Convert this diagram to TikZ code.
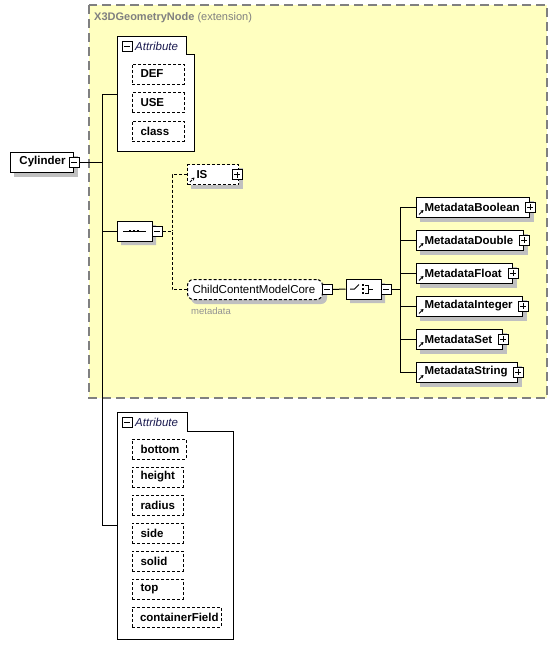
\documentclass[tikz,border=0pt]{standalone}
\usepackage{fontspec}
\setmainfont{Liberation Sans}
\usetikzlibrary{shapes.misc,arrows.meta}
\definecolor{ylw}{HTML}{FFFFC0}
\definecolor{shd}{HTML}{C0C0C0}
\definecolor{extc}{HTML}{808080}
\definecolor{navy}{HTML}{1A1A50}
\pgfdeclarelayer{back}
\pgfdeclarelayer{shadowlayer}
\pgfsetlayers{back,shadowlayer,main}
\newcommand\boxtxt[3]{\makebox[#1pt][l]{\hspace*{#2pt}#3}}
\tikzset{
  base/.style={line width=1pt, draw=black, fill=white, inner sep=0pt, minimum height=20pt,
    anchor=west, font=\fontsize{11.5}{13}\selectfont\bfseries},
  elem/.style={base},
  attr/.style={base, dash pattern=on 3pt off 2pt},
  link/.style={path picture={\draw[line width=1pt, -{Stealth[length=3pt,width=3.5pt]}]
      ([shift={(2.5pt,2.5pt)}]path picture bounding box.south west) -- ++(4.5pt,4.5pt);}},
  pmbox/.style={draw, fill=white, line width=1pt, minimum size=10pt, inner sep=0pt},
  minus/.style={pmbox, path picture={\draw[line width=1pt]
      ([xshift=2pt]path picture bounding box.west) -- ([xshift=-2pt]path picture bounding box.east);}},
  plus/.style={pmbox, path picture={\draw[line width=1pt]
      ([xshift=2pt]path picture bounding box.west) -- ([xshift=-2pt]path picture bounding box.east)
      ([yshift=2pt]path picture bounding box.south) -- ([yshift=-2pt]path picture bounding box.north);}},
  group/.style={draw=black, fill=white, line width=1pt},
  compshape/.style={chamfered rectangle, chamfered rectangle xsep=5pt, chamfered rectangle ysep=5pt,
    line width=1pt, minimum width=35pt, minimum height=20pt, inner sep=0pt},
  comp/.style={compshape, draw=black, fill=white},
  conn/.style={draw=black, line width=1pt},
  dconn/.style={draw=black, line width=1pt, dash pattern=on 3pt off 2pt},
  grptitle/.style={anchor=west, inner sep=0pt, text=navy, font=\fontsize{11.5}{13}\selectfont\itshape},
}
\begin{document}
\begin{tikzpicture}[x=1pt,y=-1pt]
\useasboundingbox (0,0) rectangle (557,656);
% extension area
\begin{pgfonlayer}{back}
\fill[ylw] (89,5) rectangle (547,398);
\draw[extc, line width=1.2pt, dash pattern=on 9pt off 5pt] (89,5) rectangle (547,398);
\end{pgfonlayer}
\node[anchor=west, inner sep=0pt, text=extc, font=\fontsize{11}{13}\selectfont] (exttitle) at (94,18)
  {\textbf{X3DGeometryNode} (extension)};

% top attribute group
\draw[group] (117,36) -- (186,36) -- (186,54) -- (194,54) -- (194,151) -- (117,151) -- cycle;
\coordinate (grpA) at (117,94);
\node[minus] (grpAm) at (127,46.5) {};
\node[grptitle] (grpAt) at (135,46.5) {Attribute};
\node[attr] (def) at (131.5,74) {\boxtxt{52}{8.5}{DEF}};
\node[attr] (use) at (131.5,102.5) {\boxtxt{52}{8.5}{USE}};
\node[attr] (class) at (131.5,131) {\boxtxt{52}{8.5}{class}};

% bottom attribute group
\draw[group] (117,412) -- (187,412) -- (187,431) -- (233,431) -- (233,639) -- (117,639) -- cycle;
\coordinate (grpB) at (117,525);
\node[minus] (grpBm) at (127,422) {};
\node[grptitle] (grpBt) at (135,422) {Attribute};
\node[attr] (bottom) at (131.5,449) {\boxtxt{54}{8.5}{bottom}};
\node[attr] (height) at (131.5,477) {\boxtxt{51}{8.5}{height}};
\node[attr] (radius) at (131.5,505) {\boxtxt{51}{8.5}{radius}};
\node[attr] (side) at (131.5,533) {\boxtxt{51}{8.5}{side}};
\node[attr] (solid) at (131.5,561) {\boxtxt{51}{8.5}{solid}};
\node[attr] (top) at (131.5,589) {\boxtxt{51}{8.5}{top}};
\node[attr] (cfield) at (131.5,617) {\boxtxt{89}{8}{containerField}};

% Cylinder
\node[elem] (cyl) at (10,162) {\boxtxt{63}{9}{Cylinder}};
\node[minus] (cylm) at (cyl.east) {};

% sequence
\node[comp, minimum width=35pt] (seq) at (134.5,231) {};
\draw[line width=1pt] (123,231) -- (146,231);
\foreach \dx in {130,134,138} \fill (\dx-1.3,229.7) rectangle (\dx+1.3,232.3);
\node[minus] (seqm) at (157,231) {};

% IS and ChildContentModelCore
\node[attr, link] (is) at (187,174.5) {\boxtxt{51}{9}{IS}};
\node[plus] (isp) at (237,174.5) {};
\node[base, dash pattern=on 3pt off 2pt, rounded corners=6pt,
  font=\fontsize{11.5}{13}\selectfont] (ccmc) at (187,289.5) {\boxtxt{135}{5}{ChildContentModelCore}};
\node[minus] (ccmcm) at (327,289.5) {};
\node[anchor=west, inner sep=0pt, text=extc!85, font=\fontsize{9.5}{11}\selectfont] (meta) at (191,311) {metadata};

% choice
\node[comp] (choice) at (363.5,289) {};
\draw[line width=1pt] (350,289) -- (354.5,289) -- (359,284.5);
\foreach \dy in {285,289,293} \fill (361.5,\dy-1.2) rectangle (363.9,\dy+1.2);
\draw[line width=1pt] (365,285) -- (368.5,285) -- (368.5,293) -- (365,293) (368.5,289) -- (373,289);
\node[minus] (choicem) at (386,289) {};

% metadata elements
\node[elem, link] (mb) at (416,207) {\boxtxt{113}{8}{MetadataBoolean}};
\node[plus] (mbp) at (mb.east) {};
\node[elem, link] (md) at (416,240) {\boxtxt{107}{8}{MetadataDouble}};
\node[plus] (mdp) at (md.east) {};
\node[elem, link] (mf) at (416,273) {\boxtxt{96}{8}{MetadataFloat}};
\node[plus] (mfp) at (mf.east) {};
\node[elem, link] (mi) at (416,306) {\boxtxt{106}{8}{MetadataInteger}};
\node[plus] (mip) at (mi.east) {};
\node[elem, link] (ms) at (416,339) {\boxtxt{86}{8}{MetadataSet}};
\node[plus] (msp) at (ms.east) {};
\node[elem, link] (mst) at (416,372) {\boxtxt{101}{8}{MetadataString}};
\node[plus] (mstp) at (mst.east) {};

% shadows
\begin{pgfonlayer}{shadowlayer}
\foreach \n in {def,use,class,bottom,height,radius,side,solid,top,cfield,cyl,is,mb,md,mf,mi,ms,mst}
  \fill[shd] ([shift={(4pt,-4pt)}]\n.south west) rectangle ([shift={(4pt,-4pt)}]\n.north east);
\fill[shd, rounded corners=6pt] ([shift={(4pt,-4pt)}]ccmc.south west) rectangle ([shift={(4pt,-4pt)}]ccmc.north east);
\node[compshape, fill=shd] (seqshadow) at ([shift={(4pt,-4pt)}]seq.center) {};
\node[compshape, fill=shd] (choiceshadow) at ([shift={(4pt,-4pt)}]choice.center) {};
\end{pgfonlayer}

% connectors
\coordinate (j1) at (102,162);
\coordinate (j2) at (172,231);
\coordinate (j3) at (400,289);
\draw[conn] (cylm.east) -- (j1);
\draw[conn] (grpA) -| (j1);
\draw[conn] (seq.west) -| (j1);
\draw[conn] (grpB) -| (j1);
\draw[dconn] (seqm.east) -- (j2);
\draw[dconn] (is.west) -| (j2);
\draw[dconn] (ccmc.west) -| (j2);
\draw[conn] (ccmcm.east) -- (choice.west);
\draw[conn] (choicem.east) -- (j3);
\foreach \m in {mb,md,mf,mi,ms,mst} \draw[conn] (\m.west) -| (j3);
\end{tikzpicture}
\end{document}
